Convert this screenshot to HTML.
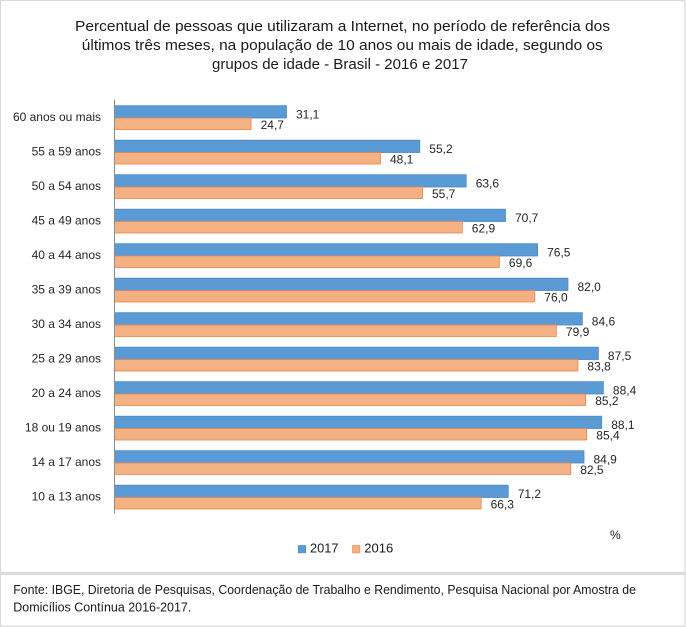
<!DOCTYPE html>
<html><head><meta charset="utf-8"><style>
html,body{margin:0;padding:0;background:#fff;}
svg{display:block;}
text{font-family:"Liberation Sans",Arial,sans-serif;fill:#1a1a1a;}
.c{font-size:12px;text-anchor:end;fill:#262626;}
.v{font-size:12px;fill:#262626;}
.b{fill:#5B9BD5;stroke:#4A86C8;stroke-width:0.8;}
.o{fill:#F4B183;stroke:#E8844A;stroke-width:0.8;}
</style></head><body>
<svg width="686" height="627" viewBox="0 0 686 627" xmlns="http://www.w3.org/2000/svg">
<rect x="0" y="0" width="686" height="627" fill="#fff"/>
<rect x="0.5" y="0.5" width="684.5" height="572" fill="none" stroke="#d9d9d9" stroke-width="1.2"/>
<rect x="0.5" y="574.5" width="684.5" height="51.7" fill="none" stroke="#d9d9d9" stroke-width="1.2"/>
<rect x="0" y="572.5" width="686" height="2.5" fill="#dcdcdc"/>

<text x="342.5" y="31" font-size="14.5" text-anchor="middle" textLength="535" lengthAdjust="spacingAndGlyphs">Percentual de pessoas que utilizaram a Internet, no período de referência dos</text>
<text x="342.3" y="50" font-size="14.5" text-anchor="middle" textLength="521" lengthAdjust="spacingAndGlyphs">últimos três meses, na população de 10 anos ou mais de idade, segundo os</text>
<text x="340" y="69" font-size="14.5" text-anchor="middle" textLength="256" lengthAdjust="spacingAndGlyphs">grupos de idade - Brasil - 2016 e 2017</text>

<g>
<rect class="b" x="114.5" y="105.7" width="171.98" height="12.3"/><rect class="o" x="114.5" y="118" width="136.59" height="11.5"/>
<rect class="b" x="114.5" y="140.2" width="305.26" height="12.3"/><rect class="o" x="114.5" y="152.5" width="265.99" height="11.5"/>
<rect class="b" x="114.5" y="174.7" width="351.71" height="12.3"/><rect class="o" x="114.5" y="187" width="308.02" height="11.5"/>
<rect class="b" x="114.5" y="209.2" width="390.97" height="12.3"/><rect class="o" x="114.5" y="221.5" width="347.84" height="11.5"/>
<rect class="b" x="114.5" y="243.7" width="423.05" height="12.3"/><rect class="o" x="114.5" y="256" width="384.89" height="11.5"/>
<rect class="b" x="114.5" y="278.2" width="453.46" height="12.3"/><rect class="o" x="114.5" y="290.5" width="420.28" height="11.5"/>
<rect class="b" x="114.5" y="312.7" width="467.84" height="12.3"/><rect class="o" x="114.5" y="325" width="441.85" height="11.5"/>
<rect class="b" x="114.5" y="347.2" width="483.88" height="12.3"/><rect class="o" x="114.5" y="359.5" width="463.41" height="11.5"/>
<rect class="b" x="114.5" y="381.7" width="488.85" height="12.3"/><rect class="o" x="114.5" y="394" width="471.16" height="11.5"/>
<rect class="b" x="114.5" y="416.2" width="487.19" height="12.3"/><rect class="o" x="114.5" y="428.5" width="472.26" height="11.5"/>
<rect class="b" x="114.5" y="450.7" width="469.50" height="12.3"/><rect class="o" x="114.5" y="463" width="456.23" height="11.5"/>
<rect class="b" x="114.5" y="485.2" width="393.74" height="12.3"/><rect class="o" x="114.5" y="497.5" width="366.64" height="11.5"/>
</g>
<line x1="114.5" y1="99.5" x2="114.5" y2="513.5" stroke="#8c8c8c" stroke-width="1"/>

<g>
<text class="c" x="101" y="121">60 anos ou mais</text>
<text class="c" x="101" y="155.5">55 a 59 anos</text>
<text class="c" x="101" y="190">50 a 54 anos</text>
<text class="c" x="101" y="224.5">45 a 49 anos</text>
<text class="c" x="101" y="259">40 a 44 anos</text>
<text class="c" x="101" y="293.5">35 a 39 anos</text>
<text class="c" x="101" y="328">30 a 34 anos</text>
<text class="c" x="101" y="362.5">25 a 29 anos</text>
<text class="c" x="101" y="397">20 a 24 anos</text>
<text class="c" x="101" y="431.5">18 ou 19 anos</text>
<text class="c" x="101" y="466">14 a 17 anos</text>
<text class="c" x="101" y="500.5">10 a 13 anos</text>
</g>

<g>
<text class="v" x="296.0" y="118.3">31,1</text><text class="v" x="260.6" y="129">24,7</text>
<text class="v" x="429.3" y="152.8">55,2</text><text class="v" x="390.0" y="163.5">48,1</text>
<text class="v" x="475.7" y="187.3">63,6</text><text class="v" x="432.0" y="198">55,7</text>
<text class="v" x="515.0" y="221.8">70,7</text><text class="v" x="471.8" y="232.5">62,9</text>
<text class="v" x="547.1" y="256.3">76,5</text><text class="v" x="508.9" y="267">69,6</text>
<text class="v" x="577.5" y="290.8">82,0</text><text class="v" x="544.3" y="301.5">76,0</text>
<text class="v" x="591.8" y="325.3">84,6</text><text class="v" x="565.9" y="336">79,9</text>
<text class="v" x="607.9" y="359.8">87,5</text><text class="v" x="587.4" y="370.5">83,8</text>
<text class="v" x="612.9" y="394.3">88,4</text><text class="v" x="595.2" y="405">85,2</text>
<text class="v" x="611.2" y="428.8">88,1</text><text class="v" x="596.3" y="439.5">85,4</text>
<text class="v" x="593.5" y="463.3">84,9</text><text class="v" x="580.2" y="474">82,5</text>
<text class="v" x="517.7" y="497.8">71,2</text><text class="v" x="490.6" y="508.5">66,3</text>
</g>

<text x="610" y="539" font-size="12" fill="#262626">%</text>

<rect x="298.3" y="545.5" width="7.4" height="7.4" fill="#5B9BD5" stroke="#4A86C8" stroke-width="0.6"/>
<text x="310" y="552.5" font-size="13" textLength="28.5" lengthAdjust="spacingAndGlyphs">2017</text>
<rect x="352.5" y="545.5" width="7.4" height="7.4" fill="#F4B183" stroke="#E8844A" stroke-width="0.6"/>
<text x="364.3" y="552.5" font-size="13" textLength="29" lengthAdjust="spacingAndGlyphs">2016</text>

<text x="13.3" y="594" font-size="13" textLength="622.7" lengthAdjust="spacingAndGlyphs">Fonte: IBGE, Diretoria de Pesquisas, Coordenação de Trabalho e Rendimento, Pesquisa Nacional por Amostra de</text>
<text x="13.3" y="611.7" font-size="13" textLength="178" lengthAdjust="spacingAndGlyphs">Domicílios Contínua 2016-2017.</text>
</svg>
</body></html>
